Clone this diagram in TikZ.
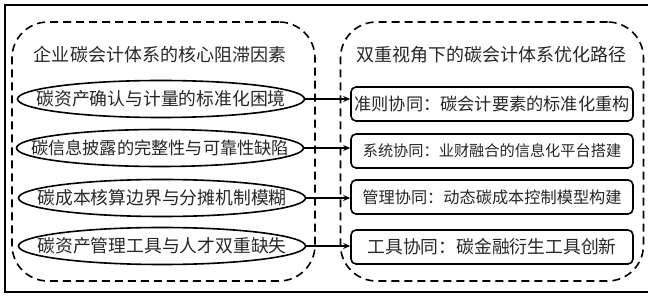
\documentclass[tikz,border=0pt]{standalone}
\usepackage{fontspec}
\setmainfont{Noto Sans CJK SC}
\usetikzlibrary{shapes.geometric, arrows.meta}

\newcommand{\zw}[1]{\makebox[0pt]{#1}}

\begin{document}
\begin{tikzpicture}[x=1pt, y=-1pt, >={Stealth[length=7pt, width=6pt]},
    group/.style={draw, dash pattern=on 8pt off 5pt, line width=1.6pt, rounded corners=36pt, minimum width=303pt, minimum height=259pt},
    factor/.style={draw, ellipse, line width=1.6pt, minimum width=287pt, minimum height=37pt, inner sep=0pt, text=black!85},
    route/.style={draw, rounded corners=5pt, line width=1.6pt, minimum width=282pt, minimum height=34pt, inner sep=0pt, text=black!85}]

    \useasboundingbox (0,0) rectangle (648,296);

    % 外框
    \draw[line width=1.2pt] (648,5) -- (5,5) -- (5,292) -- (648,292);

    % 两个虚线分组
    \node[group] (G1) at (163.5, 151.5) {};
    \node[group] (G2) at (492, 151.5) {};

    % 标题
    \node[font=\fontsize{18}{20}\selectfont, text=black!85] (T1) at (160, 55) {企业碳会计体系的核心阻滞因素};
    \node[font=\fontsize{18}{20}\selectfont, text=black!85] (T2) at (491, 55) {双重视角下的碳会计体系优化路径};

    % 阻滞因素
    \node[factor, font=\fontsize{17.8}{20}\selectfont] (F1) at (161, 99) {\zw{碳资产确认与计量的标准化困境}};
    \node[factor, font=\fontsize{17.2}{20}\selectfont] (F2) at (160, 148) {\zw{碳信息披露的完整性与可靠性缺陷}};
    \node[factor, font=\fontsize{17.8}{20}\selectfont] (F3) at (162, 198) {\zw{碳成本核算边界与分摊机制模糊}};
    \node[factor, font=\fontsize{17.8}{20}\selectfont] (F4) at (162, 246) {\zw{碳资产管理工具与人才双重缺失}};

    % 优化路径
    \node[route, font=\fontsize{17.2}{20}\selectfont] (R1) at (492, 104) {准则协同：碳会计要素的标准化重构};
    \node[route, font=\fontsize{15.2}{18}\selectfont] (R2) at (492, 151) {系统协同：业财融合的信息化平台搭建};
    \node[route, font=\fontsize{16.2}{19}\selectfont] (R3) at (492, 197) {管理协同：动态碳成本控制模型构建};
    \node[route, font=\fontsize{17.8}{20}\selectfont] (R4) at (492, 247) {工具协同：碳金融衍生工具创新};

    % 箭头
    \draw[->, line width=1.2pt] (F1.east) -- (F1.east -| R1.west);
    \draw[->, line width=1.2pt] (F2.east) -- (F2.east -| R2.west);
    \draw[->, line width=1.2pt] (F3.east) -- (F3.east -| R3.west);
    \draw[->, line width=1.2pt] (F4.east) -- (F4.east -| R4.west);

\end{tikzpicture}
\end{document}
